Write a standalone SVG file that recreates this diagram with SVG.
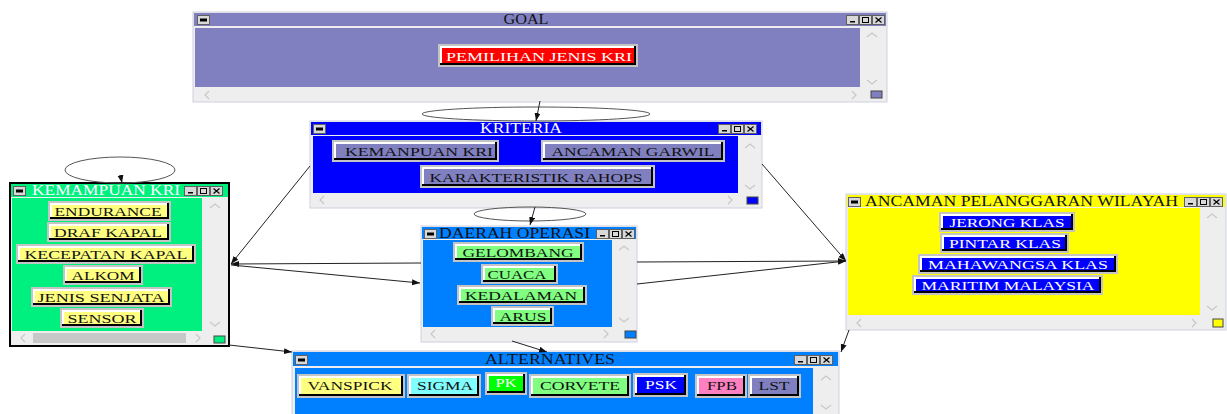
<svg xmlns="http://www.w3.org/2000/svg" xmlns:xlink="http://www.w3.org/1999/xlink" width="1227" height="414" viewBox="0 0 1227 414">
<style>
.win{fill:#eeeeee;stroke:#d0d0e0;stroke-width:1}
.bo{fill:#c4c4c4}
.bk{fill:#000}
.bw{fill:#fff}
.t{font-family:"Liberation Serif","Times New Roman",serif;font-size:13px;text-anchor:middle;fill:#111}
.tt{font-family:"Liberation Serif","Times New Roman",serif;font-size:14px;fill:#111}
.wt{fill:#fff}
.chev{fill:none;stroke:#c8c8c8;stroke-width:1.2}
.conn{fill:none;stroke:#222;stroke-width:1}
.loop{fill:none;stroke:#555;stroke-width:1}
</style>
<defs>
<marker id="ah" markerWidth="9" markerHeight="7" refX="8" refY="3" orient="auto" markerUnits="userSpaceOnUse">
<path d="M0,0 L8,3 L0,6 z" fill="#111"/>
</marker>
<symbol id="sys" width="13" height="10" viewBox="0 0 13 10" overflow="visible">
<rect x="0.5" y="0.5" width="12" height="9" fill="#d8d8d8" stroke="#606060"/>
<rect x="3" y="3.5" width="7" height="3" fill="#000"/>
</symbol>
<symbol id="ctrl" width="40" height="10" viewBox="0 0 40 10" overflow="visible">
<rect x="0.5" y="0.5" width="12" height="9" fill="#d8d8d8" stroke="#606060"/>
<rect x="13.5" y="0.5" width="12" height="9" fill="#d8d8d8" stroke="#606060"/>
<rect x="26.5" y="0.5" width="12" height="9" fill="#d8d8d8" stroke="#606060"/>
<rect x="4" y="6" width="5" height="1.5" fill="#000"/>
<rect x="16.5" y="2.5" width="6" height="5" fill="none" stroke="#000"/>
<path d="M29.5,2.5 L35.5,7.5 M35.5,2.5 L29.5,7.5" stroke="#000" stroke-width="1.2"/>
</symbol>
</defs>
<rect width="1227" height="414" fill="#fff"/>

<g id="goal">
<rect class="win" x="193" y="12" width="694" height="90"/>
<rect x="194" y="13" width="692" height="13" fill="#8080c0"/>
<rect x="195" y="28" width="665" height="59" fill="#8080c0"/>
<use href="#sys" x="197" y="15"/>
<use href="#ctrl" x="846" y="15"/>
<text class="tt" x="526" y="24" text-anchor="middle" textLength="45" lengthAdjust="spacingAndGlyphs">GOAL</text>
<path class="chev" d="M867,37 L872,33 L877,37 M867,80 L872,84 L877,80 M209,91 L205,95 L209,99 M852,91 L856,95 L852,99"/>
<rect x="871" y="91" width="11" height="7" fill="#8080c0" stroke="#444"/>
<rect class="bo" x="438" y="44" width="200" height="23"/><rect class="bk" x="440" y="46" width="196" height="19"/><rect class="bw" x="440" y="46" width="194" height="17"/><rect x="442" y="48" width="192" height="15" fill="#ff0000"/>
<text class="t wt" x="539" y="61" textLength="186" lengthAdjust="spacingAndGlyphs">PEMILIHAN JENIS KRI</text>
</g>

<g id="kriteria">
<rect class="win" x="310" y="121" width="452" height="87"/>
<rect x="311" y="122" width="450" height="13" fill="#0000ff"/>
<rect x="313" y="136" width="425" height="57" fill="#0000ff"/>
<use href="#sys" x="313" y="124"/>
<use href="#ctrl" x="718" y="124"/>
<text class="tt wt" x="521" y="133" text-anchor="middle" textLength="82" lengthAdjust="spacingAndGlyphs">KRITERIA</text>
<path class="chev" d="M745,148 L750,144 L755,148 M745,185 L750,189 L755,185 M324,196 L320,200 L324,204 M728,196 L732,200 L728,204"/>
<rect x="747" y="197" width="11" height="7" fill="#0000ff" stroke="#444"/>
<rect class="bo" x="332" y="140" width="167" height="22"/><rect class="bk" x="334" y="142" width="163" height="18"/><rect class="bw" x="334" y="142" width="161" height="16"/><rect x="336" y="144" width="159" height="14" fill="#8080c0"/>
<text class="t" x="419" y="156" textLength="148" lengthAdjust="spacingAndGlyphs">KEMANPUAN KRI</text>
<rect class="bo" x="541" y="140" width="184" height="22"/><rect class="bk" x="543" y="142" width="180" height="18"/><rect class="bw" x="543" y="142" width="178" height="16"/><rect x="545" y="144" width="176" height="14" fill="#8080c0"/>
<text class="t" x="633" y="156" textLength="163" lengthAdjust="spacingAndGlyphs">ANCAMAN GARWIL</text>
<rect class="bo" x="420" y="165" width="235" height="23"/><rect class="bk" x="422" y="167" width="231" height="19"/><rect class="bw" x="422" y="167" width="229" height="17"/><rect x="424" y="169" width="227" height="15" fill="#8080c0"/>
<text class="t" x="536" y="182" textLength="213" lengthAdjust="spacingAndGlyphs">KARAKTERISTIK RAHOPS</text>
</g>

<g id="kemampuan">
<rect x="10" y="183" width="219" height="163" fill="#eeeeee" stroke="#000" stroke-width="2"/>
<rect x="11" y="184" width="217" height="13" fill="#00f080"/>
<rect x="12" y="198" width="190" height="133" fill="#00f080"/>
<use href="#sys" x="13" y="186"/>
<use href="#ctrl" x="184" y="186"/>
<text class="tt wt" x="32" y="195" textLength="148" lengthAdjust="spacingAndGlyphs">KEMAMPUAN KRI</text>
<rect x="33" y="333" width="153" height="10" fill="#c8c8c8"/>
<path class="chev" d="M210,208 L215,204 L220,208 M210,322 L215,326 L220,322 M25,334 L21,338 L25,342 M196,334 L200,338 L196,342"/>
<rect x="214" y="336" width="11" height="7" fill="#00f080" stroke="#444"/>
<rect class="bo" x="48" y="201" width="123" height="20"/><rect class="bk" x="50" y="203" width="119" height="16"/><rect class="bw" x="50" y="203" width="117" height="14"/><rect x="52" y="205" width="115" height="12" fill="#ffff80"/>
<text class="t" x="108" y="216" textLength="107" lengthAdjust="spacingAndGlyphs">ENDURANCE</text>
<rect class="bo" x="47" y="222" width="124" height="20"/><rect class="bk" x="49" y="224" width="120" height="16"/><rect class="bw" x="49" y="224" width="118" height="14"/><rect x="51" y="226" width="116" height="12" fill="#ffff80"/>
<text class="t" x="108" y="237" textLength="108" lengthAdjust="spacingAndGlyphs">DRAF KAPAL</text>
<rect class="bo" x="16" y="244" width="180" height="20"/><rect class="bk" x="18" y="246" width="176" height="16"/><rect class="bw" x="18" y="246" width="174" height="14"/><rect x="20" y="248" width="172" height="12" fill="#ffff80"/>
<text class="t" x="106" y="259" textLength="163" lengthAdjust="spacingAndGlyphs">KECEPATAN KAPAL</text>
<rect class="bo" x="63" y="265" width="80" height="20"/><rect class="bk" x="65" y="267" width="76" height="16"/><rect class="bw" x="65" y="267" width="74" height="14"/><rect x="67" y="269" width="72" height="12" fill="#ffff80"/>
<text class="t" x="103" y="280" textLength="63" lengthAdjust="spacingAndGlyphs">ALKOM</text>
<rect class="bo" x="31" y="287" width="141" height="20"/><rect class="bk" x="33" y="289" width="137" height="16"/><rect class="bw" x="33" y="289" width="135" height="14"/><rect x="35" y="291" width="133" height="12" fill="#ffff80"/>
<text class="t" x="101" y="302" textLength="127" lengthAdjust="spacingAndGlyphs">JENIS SENJATA</text>
<rect class="bo" x="60" y="308" width="84" height="20"/><rect class="bk" x="62" y="310" width="80" height="16"/><rect class="bw" x="62" y="310" width="78" height="14"/><rect x="64" y="312" width="76" height="12" fill="#ffff80"/>
<text class="t" x="102" y="323" textLength="69" lengthAdjust="spacingAndGlyphs">SENSOR</text>
</g>

<g id="daerah">
<rect class="win" x="421" y="226" width="216" height="116"/>
<rect x="422" y="227" width="214" height="12" fill="#0080ff"/>
<rect x="423" y="240" width="189" height="87" fill="#0080ff"/>
<use href="#sys" x="424" y="229"/>
<use href="#ctrl" x="596" y="229"/>
<text class="tt" x="439" y="238" textLength="151" lengthAdjust="spacingAndGlyphs">DAERAH OPERASI</text>
<path class="chev" d="M619,250 L624,246 L629,250 M619,318 L624,322 L629,318 M435,330 L431,334 L435,338 M604,330 L608,334 L604,338"/>
<rect x="625" y="331" width="11" height="7" fill="#0080ff" stroke="#444"/>
<rect class="bo" x="453" y="242" width="131" height="20"/><rect class="bk" x="455" y="244" width="127" height="16"/><rect class="bw" x="455" y="244" width="125" height="14"/><rect x="457" y="246" width="123" height="12" fill="#80ff80"/>
<text class="t" x="518" y="257" textLength="111" lengthAdjust="spacingAndGlyphs">GELOMBANG</text>
<rect class="bo" x="481" y="264" width="77" height="20"/><rect class="bk" x="483" y="266" width="73" height="16"/><rect class="bw" x="483" y="266" width="71" height="14"/><rect x="485" y="268" width="69" height="12" fill="#80ff80"/>
<text class="t" x="517" y="279" textLength="59" lengthAdjust="spacingAndGlyphs">CUACA</text>
<rect class="bo" x="457" y="285" width="130" height="20"/><rect class="bk" x="459" y="287" width="126" height="16"/><rect class="bw" x="459" y="287" width="124" height="14"/><rect x="461" y="289" width="122" height="12" fill="#80ff80"/>
<text class="t" x="521" y="300" textLength="112" lengthAdjust="spacingAndGlyphs">KEDALAMAN</text>
<rect class="bo" x="491" y="306" width="63" height="20"/><rect class="bk" x="493" y="308" width="59" height="16"/><rect class="bw" x="493" y="308" width="57" height="14"/><rect x="495" y="310" width="55" height="12" fill="#80ff80"/>
<text class="t" x="523" y="321" textLength="47" lengthAdjust="spacingAndGlyphs">ARUS</text>
</g>

<g id="ancaman">
<rect class="win" x="846" y="194" width="380" height="136"/>
<rect x="847" y="195" width="378" height="12" fill="#ffff00"/>
<rect x="848" y="208" width="352" height="107" fill="#ffff00"/>
<use href="#sys" x="848" y="197"/>
<use href="#ctrl" x="1184" y="197"/>
<text class="tt" x="865" y="206" textLength="313" lengthAdjust="spacingAndGlyphs">ANCAMAN PELANGGARAN WILAYAH</text>
<path class="chev" d="M1207,218 L1212,214 L1217,218 M1207,306 L1212,310 L1217,306 M861,319 L857,323 L861,327 M1192,319 L1196,323 L1192,327"/>
<rect x="1213" y="319" width="10" height="8" fill="#ffff00" stroke="#444"/>
<rect class="bo" x="939" y="212" width="136" height="20"/><rect class="bk" x="941" y="214" width="132" height="16"/><rect class="bw" x="941" y="214" width="130" height="14"/><rect x="943" y="216" width="128" height="12" fill="#0000ff"/>
<text class="t wt" x="1007" y="227" textLength="115" lengthAdjust="spacingAndGlyphs">JERONG KLAS</text>
<rect class="bo" x="940" y="233" width="129" height="20"/><rect class="bk" x="942" y="235" width="125" height="16"/><rect class="bw" x="942" y="235" width="123" height="14"/><rect x="944" y="237" width="121" height="12" fill="#0000ff"/>
<text class="t wt" x="1005" y="248" textLength="112" lengthAdjust="spacingAndGlyphs">PINTAR KLAS</text>
<rect class="bo" x="918" y="254" width="200" height="20"/><rect class="bk" x="920" y="256" width="196" height="16"/><rect class="bw" x="920" y="256" width="194" height="14"/><rect x="922" y="258" width="192" height="12" fill="#0000ff"/>
<text class="t wt" x="1018" y="269" textLength="180" lengthAdjust="spacingAndGlyphs">MAHAWANGSA KLAS</text>
<rect class="bo" x="912" y="275" width="191" height="20"/><rect class="bk" x="914" y="277" width="187" height="16"/><rect class="bw" x="914" y="277" width="185" height="14"/><rect x="916" y="279" width="183" height="12" fill="#0000ff"/>
<text class="t wt" x="1008" y="290" textLength="173" lengthAdjust="spacingAndGlyphs">MARITIM MALAYSIA</text>
</g>

<g id="alternatives">
<rect class="win" x="292" y="351" width="547" height="70"/>
<rect x="293" y="352" width="545" height="14" fill="#0080ff"/>
<rect x="295" y="368" width="518" height="50" fill="#0080ff"/>
<use href="#sys" x="295" y="355"/>
<use href="#ctrl" x="794" y="355"/>
<text class="tt" x="550" y="364" text-anchor="middle" textLength="130" lengthAdjust="spacingAndGlyphs">ALTERNATIVES</text>
<path class="chev" d="M821,380 L826,376 L831,380 M821,405 L826,409 L831,405"/>
<rect class="bo" x="297" y="374" width="108" height="24"/><rect class="bk" x="299" y="376" width="104" height="20"/><rect class="bw" x="299" y="376" width="102" height="18"/><rect x="301" y="378" width="100" height="16" fill="#ffff80"/>
<text class="t" x="350" y="390" textLength="85" lengthAdjust="spacingAndGlyphs">VANSPICK</text>
<rect class="bo" x="407" y="374" width="74" height="24"/><rect class="bk" x="409" y="376" width="70" height="20"/><rect class="bw" x="409" y="376" width="68" height="18"/><rect x="411" y="378" width="66" height="16" fill="#80ffff"/>
<text class="t" x="445" y="390" textLength="56" lengthAdjust="spacingAndGlyphs">SIGMA</text>
<rect class="bo" x="485" y="372" width="42" height="23"/><rect class="bk" x="487" y="374" width="38" height="19"/><rect class="bw" x="487" y="374" width="36" height="17"/><rect x="489" y="376" width="34" height="15" fill="#00ff00"/>
<text class="t wt" x="506" y="387" textLength="21" lengthAdjust="spacingAndGlyphs">PK</text>
<rect class="bo" x="529" y="374" width="102" height="24"/><rect class="bk" x="531" y="376" width="98" height="20"/><rect class="bw" x="531" y="376" width="96" height="18"/><rect x="533" y="378" width="94" height="16" fill="#80ff80"/>
<text class="t" x="580" y="390" textLength="80" lengthAdjust="spacingAndGlyphs">CORVETE</text>
<rect class="bo" x="633" y="373" width="55" height="24"/><rect class="bk" x="635" y="375" width="51" height="20"/><rect class="bw" x="635" y="375" width="49" height="18"/><rect x="637" y="377" width="47" height="16" fill="#0000ff"/>
<text class="t wt" x="661" y="389" textLength="32" lengthAdjust="spacingAndGlyphs">PSK</text>
<rect class="bo" x="695" y="374" width="52" height="24"/><rect class="bk" x="697" y="376" width="48" height="20"/><rect class="bw" x="697" y="376" width="46" height="18"/><rect x="699" y="378" width="44" height="16" fill="#ff80c0"/>
<text class="t" x="722" y="390" textLength="30" lengthAdjust="spacingAndGlyphs">FPB</text>
<rect class="bo" x="748" y="374" width="53" height="24"/><rect class="bk" x="750" y="376" width="49" height="20"/><rect class="bw" x="750" y="376" width="47" height="18"/><rect x="752" y="378" width="45" height="16" fill="#8080c0"/>
<text class="t" x="774" y="390" textLength="31" lengthAdjust="spacingAndGlyphs">LST</text>
</g>

<g id="connectors">
<ellipse class="loop" cx="536" cy="114" rx="114" ry="7"/>
<ellipse class="loop" cx="120" cy="170" rx="55" ry="13"/>
<ellipse class="loop" cx="530" cy="214" rx="56" ry="7"/>
<line class="conn" x1="540" y1="101" x2="536" y2="121" marker-end="url(#ah)"/>
<line class="conn" x1="121" y1="178" x2="122" y2="183" marker-end="url(#ah)"/>
<line class="conn" x1="535" y1="207" x2="530" y2="225" marker-end="url(#ah)"/>
<line class="conn" x1="310" y1="166" x2="231" y2="264" marker-end="url(#ah)"/>
<line class="conn" x1="421" y1="263" x2="231" y2="264" marker-end="url(#ah)"/>
<line class="conn" x1="231" y1="265" x2="420" y2="283" marker-end="url(#ah)"/>
<line class="conn" x1="762" y1="164" x2="846" y2="261" marker-end="url(#ah)"/>
<line class="conn" x1="637" y1="262" x2="846" y2="261" marker-end="url(#ah)"/>
<line class="conn" x1="637" y1="284" x2="846" y2="261" marker-end="url(#ah)"/>
<line class="conn" x1="229" y1="345" x2="292" y2="352" marker-end="url(#ah)"/>
<line class="conn" x1="512" y1="341" x2="547" y2="352" marker-end="url(#ah)"/>
<line class="conn" x1="849" y1="330" x2="841" y2="352" marker-end="url(#ah)"/>
</g>
</svg>
